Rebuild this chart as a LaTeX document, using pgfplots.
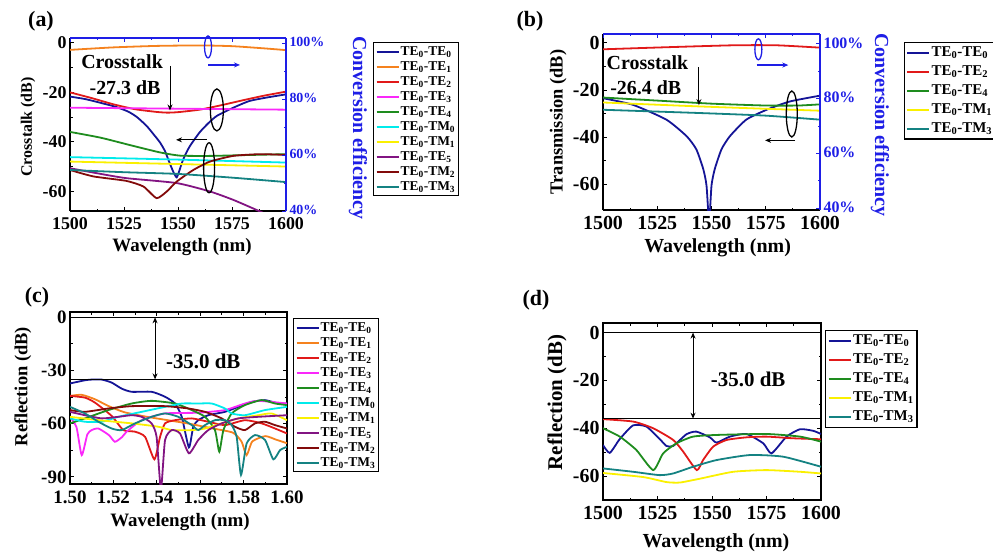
\documentclass[border=0pt]{standalone}
\usepackage{fontspec}
\setmainfont{Liberation Serif}
\usepackage{pgfplots}
\pgfplotsset{compat=1.18}
\usetikzlibrary{arrows.meta}

\definecolor{cTEa}{RGB}{20,20,150}
\definecolor{cTEb}{RGB}{245,130,30}
\definecolor{cTEc}{RGB}{225,25,25}
\definecolor{cTEd}{RGB}{250,40,250}
\definecolor{cTEe}{RGB}{30,140,30}
\definecolor{cTMa}{RGB}{0,235,235}
\definecolor{cTMb}{RGB}{250,240,0}
\definecolor{cTEf}{RGB}{130,20,130}
\definecolor{cTMc}{RGB}{130,10,10}
\definecolor{cTMd}{RGB}{20,130,130}
\definecolor{effblue}{RGB}{30,30,230}

\newcommand{\fs}[1]{\fontsize{#1}{#1}\selectfont\bfseries}
\newcommand{\lab}[4]{TE\textsubscript{#1}-T#2\textsubscript{#3}#4}

\pgfplotsset{
  base/.style={scale only axis, tick align=inside, clip mode=individual,
    /pgf/number format/assume math mode=true,
    /pgf/number format/set thousands separator={},
    axis line style={line width=1.2bp},
    tick style={line width=0.9bp, black},
    major tick length=4bp, minor tick length=2.5bp,
    every axis plot/.append style={line width=1.8bp, smooth, tension=0.35},
    xticklabel style={yshift=-3bp},
    legend cell align=left,
    legend image code/.code={\draw[mark repeat=2, mark phase=2, ##1, line width=2bp] plot coordinates {(0bp,0bp) (11bp,0bp) (22bp,0bp)};},
  },
  legS/.style={legend style={draw=black, line width=1.3bp, fill=white, inner sep=2bp,
      font=\fs{13.5}, nodes={inner sep=1bp, text height=9.5bp, text depth=2.5bp},
      row sep=1bp}},
  legL/.style={legend style={draw=black, line width=1.3bp, fill=white, inner sep=2bp,
      font=\fs{15}, nodes={inner sep=1.5bp, text height=10.5bp, text depth=3bp},
      row sep=2.5bp}},
}

\begin{document}
\begin{tikzpicture}
\path[use as bounding box] (0,0) rectangle (993bp,-554bp);

%================ (a) =================
\begin{axis}[base, legS, at={(70bp,-211bp)}, anchor=south west, width=216bp, height=173bp,
  xmin=1500, xmax=1600, ymin=-68, ymax=2,
  axis x line*=bottom, axis y line*=left,
  xtick={1500,1525,1550,1575,1600}, ytick={-60,-40,-20,0},
  minor x tick num=1, minor y tick num=1,
  ticklabel style={font=\fs{18}},
  xlabel={Wavelength (nm)}, ylabel={Crosstalk (dB)},
  xlabel style={font=\fs{19}, at={(axis description cs:0.519,-0.207)}, anchor=center},
  ylabel style={font=\fs{16}, at={(axis description cs:-0.194,0.486)}, anchor=center},
  legend style={at={(axis description cs:1.403,0.977)}, anchor=north west},
]
\addplot[cTEa] coordinates {(1500,-21.7)(1507,-22.7)(1514,-24.2)(1521,-25.8)(1527,-27.8)(1531,-30)(1535.5,-33.6)(1539,-37.3)(1541.7,-40.3)(1544,-43.8)(1546,-48.3)(1548,-52.5)(1549.4,-54.4)(1550.5,-52)(1551.9,-48.3)(1553.5,-45)(1555.6,-41.6)(1560,-36.2)(1564,-32.5)(1568,-29.5)(1575.6,-26.2)(1583,-23.5)(1591,-22.1)(1600,-20.8)};
\addlegendentry{\lab{0}{E}{0}{}}
\addplot[cTEb] coordinates {(1500,-2.8)(1520,-1.8)(1540,-1.2)(1560,-1.0)(1575,-1.3)(1590,-2.2)(1600,-2.9)};
\addlegendentry{\lab{0}{E}{1}{}}
\addplot[cTEc] coordinates {(1500,-20)(1510,-22.3)(1520,-24.8)(1530,-26.8)(1540,-27.9)(1545,-28.2)(1550,-28.0)(1560,-27.0)(1570,-25.2)(1580,-23.2)(1590,-21.3)(1600,-19.7)};
\addlegendentry{\lab{0}{E}{2}{}}
\addplot[cTEd] coordinates {(1500,-26.2)(1550,-26.6)(1600,-27)};
\addlegendentry{\lab{0}{E}{3}{}}
\addplot[cTEe] coordinates {(1500,-36)(1514,-38.3)(1529,-41.6)(1541.7,-44.3)(1551,-45.6)(1565,-45.7)(1580,-45.4)(1600,-45)};
\addlegendentry{\lab{0}{E}{4}{}}
\addplot[cTMa] coordinates {(1500,-46.2)(1550,-47.2)(1600,-48.4)};
\addlegendentry{\lab{0}{M}{0}{}}
\addplot[cTMb] coordinates {(1500,-48)(1550,-49)(1600,-50)};
\addlegendentry{\lab{0}{M}{1}{}}
\addplot[cTEf] coordinates {(1500,-50.7)(1513,-52.8)(1526,-54.7)(1549.4,-56.7)(1564.8,-60.1)(1575.6,-63.5)(1588,-68.2)(1600,-73)};
\addlegendentry{\lab{0}{E}{5}{}}
\addplot[cTMc] coordinates {(1500,-51.4)(1510.8,-54)(1526,-55.8)(1534,-58.1)(1540.1,-62.8)(1544.8,-60.1)(1549.4,-56.1)(1557.1,-51.4)(1564.8,-48)(1575.6,-45.7)(1588,-45)(1600,-45.3)};
\addlegendentry{\lab{0}{M}{2}{}}
\addplot[cTMd] coordinates {(1500,-51.4)(1525,-52.3)(1550,-53)(1575,-54.5)(1600,-56.3)};
\addlegendentry{\lab{0}{M}{3}{}}
\node[font=\fs{20}] at (axis cs:1524.1,-7.7) {Crosstalk};
\node[font=\fs{20}] at (axis cs:1525.5,-18.2) {-27.3 dB};
\draw[-{Stealth[length=6bp,width=5bp]}, line width=1bp] (axis cs:1546.3,-9.3) -- (axis cs:1546.3,-27.3);
\draw[effblue, line width=1.3bp] (axis cs:1563.9,-1.6) ellipse [x radius=3.5bp, y radius=11bp];
\draw[effblue, line width=1.3bp, -{Stealth[length=6bp,width=5bp]}] (axis cs:1563.9,-8.9) -- (axis cs:1578.7,-8.9);
\draw[line width=1.3bp] (axis cs:1568,-27.1) ellipse [x radius=6.5bp, y radius=21bp];
\draw[line width=1.3bp, -{Stealth[length=6bp,width=5bp]}] (axis cs:1563.4,-39.2) -- (axis cs:1549.1,-39.2);
\draw[line width=1.3bp] (axis cs:1564.4,-50.5) ellipse [x radius=5.5bp, y radius=25bp];
\end{axis}
\begin{axis}[base, at={(70bp,-211bp)}, anchor=south west, width=216bp, height=173bp,
  xmin=1500, xmax=1600, ymin=40, ymax=101.8,
  axis x line*=top, axis y line*=right,
  axis line style={effblue, line width=1.2bp}, tick style={effblue, line width=0.9bp},
  xtick={1500,1525,1550,1575,1600}, xticklabels={,,,,}, minor x tick num=1,
  ytick={40,60,80,100}, yticklabels={40\%,60\%,80\%,100\%}, minor y tick num=1,
  yticklabel style={font=\fs{14}, text=effblue, yshift=1.5bp},
  ylabel={Conversion efficiency},
  every axis y label/.style={at={(axis description cs:1.333,0.48)}, rotate=-90, anchor=center, font=\fs{20}, text=effblue},
]
\end{axis}

%================ (b) =================
\begin{axis}[base, legL, at={(603bp,-210bp)}, anchor=south west, width=217bp, height=176bp,
  xmin=1500, xmax=1600, ymin=-71, ymax=3.8,
  axis x line*=bottom, axis y line*=left,
  xtick={1500,1525,1550,1575,1600}, ytick={-60,-40,-20,0},
  minor x tick num=1, minor y tick num=1,
  ticklabel style={font=\fs{20}},
  xlabel={Wavelength (nm)}, ylabel={Transmission (dB)},
  xlabel style={font=\fs{20}, at={(axis description cs:0.528,-0.216)}, anchor=center},
  ylabel style={font=\fs{18.5}, at={(axis description cs:-0.207,0.5)}, anchor=center},
  legend style={at={(axis description cs:1.385,0.955)}, anchor=north west},
]
\addplot[cTEa] coordinates {(1500,-23.5)(1513.8,-26.3)(1529.2,-32.6)(1538.5,-39.6)(1543,-45.2)(1546.2,-53.6)(1547.7,-60.6)(1548.9,-76)(1550,-60.6)(1551.5,-53.6)(1554.6,-45.2)(1558.5,-39.6)(1566,-32.6)(1575.4,-28.4)(1586,-24.9)(1600,-22.4)};
\addlegendentry{\lab{0}{E}{0}{}}
\addplot[cTEc] coordinates {(1500,-2.7)(1530,-1.8)(1560,-1.0)(1580,-1.0)(1600,-2.0)};
\addlegendentry{\lab{0}{E}{2}{}}
\addplot[cTEe] coordinates {(1500,-23.2)(1525,-24.5)(1550,-25.8)(1575,-26.6)(1590,-26.6)(1600,-26.1)};
\addlegendentry{\lab{0}{E}{4}{}}
\addplot[cTMb] coordinates {(1500,-25.3)(1545,-27)(1600,-28.8)};
\addlegendentry{\lab{0}{M}{1}{}}
\addplot[cTMd] coordinates {(1500,-28.4)(1545,-29.8)(1575,-30.9)(1600,-32.6)};
\addlegendentry{\lab{0}{M}{3}{}}
\node[font=\fs{20}] at (axis cs:1520.5,-8.5) {Crosstalk};
\node[font=\fs{20}] at (axis cs:1519.7,-19.2) {-26.4 dB};
\draw[-{Stealth[length=6bp,width=5bp]}, line width=1bp] (axis cs:1544.2,-10.4) -- (axis cs:1544.2,-26.4);
\draw[effblue, line width=1.3bp] (axis cs:1571.6,-2.7) ellipse [x radius=3.5bp, y radius=10.5bp];
\draw[effblue, line width=1.3bp, -{Stealth[length=6bp,width=5bp]}] (axis cs:1570.8,-9.4) -- (axis cs:1585.4,-9.4);
\draw[line width=1.3bp] (axis cs:1587,-30.2) ellipse [x radius=5.5bp, y radius=23bp];
\draw[line width=1.3bp, -{Stealth[length=6bp,width=5bp]}] (axis cs:1588.5,-41.4) -- (axis cs:1574.7,-41.4);
\end{axis}
\begin{axis}[base, at={(603bp,-210bp)}, anchor=south west, width=217bp, height=176bp,
  xmin=1500, xmax=1600, ymin=39.3, ymax=103.6,
  axis x line*=top, axis y line*=right,
  axis line style={effblue, line width=1.2bp}, tick style={effblue, line width=0.9bp},
  xtick={1500,1525,1550,1575,1600}, xticklabels={,,,,}, minor x tick num=1,
  ytick={40,60,80,100}, yticklabels={40\%,60\%,80\%,100\%}, minor y tick num=1,
  yticklabel style={font=\fs{16}, text=effblue, yshift=1bp},
  ylabel={Conversion efficiency},
  every axis y label/.style={at={(axis description cs:1.276,0.483)}, rotate=-90, anchor=center, font=\fs{20}, text=effblue},
]
\end{axis}

%================ (c) =================
\begin{axis}[base, legS, at={(70bp,-484bp)}, anchor=south west, width=217bp, height=172bp,
  xmin=1.5, xmax=1.6, ymin=-94, ymax=3,
  xtick={1.50,1.52,1.54,1.56,1.58,1.60}, ytick={-90,-60,-30,0},
  minor x tick num=1, minor y tick num=1,
  xticklabel style={/pgf/number format/.cd, fixed, fixed zerofill, precision=2},
  ticklabel style={font=\fs{19}},
  xlabel={Wavelength (nm)}, ylabel={Reflection (dB)},
  xlabel style={font=\fs{19}, at={(axis description cs:0.507,-0.219)}, anchor=center},
  ylabel style={font=\fs{18.5}, at={(axis description cs:-0.217,0.566)}, anchor=center},
  legend style={at={(axis description cs:1.028,0.965)}, anchor=north west},
]
\addplot[cTEa] coordinates {(1.5000,-37.3)(1.5069,-35.5)(1.5100,-35.1)(1.5146,-35.1)(1.5192,-36.8)(1.5238,-40.2)(1.5284,-42.0)(1.5376,-42.0)(1.5438,-44.8)(1.5484,-48.6)(1.5515,-56.1)(1.5548,-73.4)(1.5568,-61.7)(1.5591,-58.0)(1.5637,-55.2)(1.5714,-53.3)(1.5776,-50.5)(1.5837,-47.7)(1.5899,-46.7)(1.5960,-48.6)(1.6000,-48.6)};
\addlegendentry{\lab{0}{E}{0}{}}
\addplot[cTEb] coordinates {(1.5000,-44.3)(1.5054,-43.7)(1.5115,-46.2)(1.5177,-50.0)(1.5250,-53.5)(1.5350,-56.0)(1.5450,-58.0)(1.5550,-60.0)(1.5650,-62.5)(1.5750,-65.0)(1.5790,-70.0)(1.5814,-77.7)(1.5840,-70.0)(1.5900,-67.0)(1.5950,-69.0)(1.6000,-71.0)};
\addlegendentry{\lab{0}{E}{1}{}}
\addplot[cTEc] coordinates {(1.5000,-44.3)(1.5069,-45.3)(1.5115,-48.1)(1.5192,-55.6)(1.5246,-63.6)(1.5300,-64.5)(1.5346,-67.4)(1.5389,-80.1)(1.5415,-67.4)(1.5438,-59.8)(1.5484,-58.0)(1.5561,-57.0)(1.5637,-58.9)(1.5714,-60.8)(1.5806,-58.0)(1.5883,-59.8)(1.5945,-62.7)(1.6000,-65.5)};
\addlegendentry{\lab{0}{E}{2}{}}
\addplot[cTEd] coordinates {(1.5000,-56.1)(1.5030,-62)(1.5054,-77.7)(1.5080,-66)(1.5100,-63.6)(1.5131,-62.7)(1.5180,-66.5)(1.5207,-70.2)(1.5240,-67.5)(1.5261,-64.5)(1.5330,-58.0)(1.5438,-54.2)(1.5591,-53.8)(1.5714,-52.3)(1.5806,-48.6)(1.5868,-47.1)(1.6000,-48.6)};
\addlegendentry{\lab{0}{E}{3}{}}
\addplot[cTEe] coordinates {(1.5000,-59.8)(1.5069,-57.0)(1.5177,-52.3)(1.5284,-48.6)(1.5376,-47.1)(1.5484,-48.6)(1.5561,-52.3)(1.5622,-56.1)(1.5668,-63.6)(1.5688,-75.8)(1.5707,-63.6)(1.5745,-54.2)(1.5806,-49.5)(1.5883,-46.7)(1.5945,-48.6)(1.6000,-49.5)};
\addlegendentry{\lab{0}{E}{4}{}}
\addplot[cTMa] coordinates {(1.5000,-57.0)(1.5069,-58.9)(1.5146,-58.9)(1.5223,-56.1)(1.5330,-53.3)(1.5438,-50.5)(1.5515,-48.6)(1.5591,-48.6)(1.5653,-48.6)(1.5714,-51.4)(1.5745,-54.2)(1.5806,-55.2)(1.5899,-52.3)(1.6000,-50.5)};
\addlegendentry{\lab{0}{M}{0}{}}
\addplot[cTMb] coordinates {(1.5000,-56.1)(1.5131,-58.0)(1.5284,-59.8)(1.5407,-61.7)(1.5469,-63.6)(1.5561,-63.6)(1.5622,-62.7)(1.5699,-59.8)(1.5776,-57.0)(1.5868,-55.2)(1.5929,-54.2)(1.6000,-58.0)};
\addlegendentry{\lab{0}{M}{1}{}}
\addplot[cTEf] coordinates {(1.5000,-53.3)(1.5069,-55.2)(1.5146,-57.0)(1.5223,-56.1)(1.5284,-55.2)(1.5330,-56.1)(1.5376,-59.8)(1.5399,-67.4)(1.5419,-97)(1.5438,-69.2)(1.5469,-63.6)(1.5507,-65.5)(1.5548,-76.7)(1.5591,-69.2)(1.5637,-63.6)(1.5699,-59.8)(1.5776,-57.0)(1.5868,-56.1)(1.6000,-55.2)};
\addlegendentry{\lab{0}{E}{5}{}}
\addplot[cTMc] coordinates {(1.5000,-52.3)(1.5069,-53.3)(1.5177,-51.4)(1.5284,-50.1)(1.5438,-50.1)(1.5545,-51.4)(1.5622,-53.3)(1.5699,-57.0)(1.5760,-61.7)(1.5806,-63.6)(1.5853,-59.8)(1.5899,-58.9)(1.5945,-60.8)(1.6000,-62.7)};
\addlegendentry{\lab{0}{M}{2}{}}
\addplot[cTMd] coordinates {(1.5000,-50.5)(1.5069,-54.2)(1.5131,-58.9)(1.5192,-62.7)(1.5238,-63.6)(1.5300,-59.8)(1.5376,-56.1)(1.5438,-54.2)(1.5499,-56.1)(1.5561,-60.8)(1.5591,-63.6)(1.5622,-60.8)(1.5668,-58.0)(1.5714,-58.0)(1.5745,-60.8)(1.5768,-67.4)(1.5788,-88.9)(1.5814,-71.1)(1.5853,-66.4)(1.5899,-69.2)(1.5937,-80.1)(1.5968,-74.9)(1.6000,-73.0)};
\addlegendentry{\lab{0}{M}{3}{}}
\draw[line width=1.2bp] (axis cs:1.5,0) -- (axis cs:1.6,0);
\draw[line width=1.2bp] (axis cs:1.5,-35) -- (axis cs:1.6,-35);
\draw[{Stealth[length=6bp,width=5bp]}-{Stealth[length=6bp,width=5bp]}, line width=1bp] (axis cs:1.5392,0) -- (axis cs:1.5392,-35);
\node[font=\fs{21}] at (axis cs:1.5614,-24.8) {-35.0 dB};
\end{axis}

%================ (d) =================
\begin{axis}[base, legL, at={(603bp,-500bp)}, anchor=south west, width=218bp, height=177bp,
  xmin=1500, xmax=1600, ymin=-70, ymax=4,
  xtick={1500,1525,1550,1575,1600}, ytick={-60,-40,-20,0},
  minor x tick num=1, minor y tick num=1,
  ticklabel style={font=\fs{20}},
  xlabel={Wavelength (nm)}, ylabel={Reflection (dB)},
  xlabel style={font=\fs{20}, at={(axis description cs:0.518,-0.243)}, anchor=center},
  ylabel style={font=\fs{21}, at={(axis description cs:-0.211,0.551)}, anchor=center},
  legend style={at={(axis description cs:1.018,0.96)}, anchor=north west},
]
\addplot[cTEa] coordinates {(1500,-47.0)(1503.1,-50.3)(1507.7,-44.5)(1513.8,-38.8)(1519.9,-39.3)(1526,-44.5)(1529.1,-47.4)(1532.2,-47.4)(1538.3,-42.5)(1542.8,-41.4)(1549,-43.8)(1552.1,-46.0)(1558.2,-43.5)(1565.8,-42.4)(1573.5,-46.3)(1577.3,-50.5)(1584.2,-43.5)(1590.4,-40.4)(1596.5,-41.1)(1600,-42.4)};
\addlegendentry{\lab{0}{E}{0}{}}
\addplot[cTEc] coordinates {(1500,-36.2)(1513.8,-37.2)(1523,-40)(1532.2,-44.9)(1536.8,-49.8)(1543,-57.5)(1545.9,-53.3)(1550.5,-47.7)(1556.7,-44.9)(1565.8,-43.8)(1575,-43.5)(1587.3,-44.2)(1600,-44.6)};
\addlegendentry{\lab{0}{E}{2}{}}
\addplot[cTEe] coordinates {(1500,-40)(1507.7,-43.5)(1515.3,-49.1)(1523,-57.5)(1527.6,-50.5)(1533.7,-46.3)(1541.3,-43.5)(1552.1,-42.8)(1575,-42.4)(1590.4,-43.5)(1600,-45.6)};
\addlegendentry{\lab{0}{E}{4}{}}
\addplot[cTMb] coordinates {(1500,-58.7)(1518.4,-60.4)(1529.1,-62.5)(1535.2,-62.7)(1544.4,-61.1)(1559.7,-58.2)(1575,-57.5)(1590.4,-58.2)(1600,-58.9)};
\addlegendentry{\lab{0}{M}{1}{}}
\addplot[cTMd] coordinates {(1500,-56.8)(1513.8,-58.2)(1526,-59.6)(1532.2,-58.9)(1541.3,-56.1)(1552.1,-53.3)(1567.4,-51.2)(1582.7,-51.9)(1600,-56.1)};
\addlegendentry{\lab{0}{M}{3}{}}
\draw[line width=1.2bp] (axis cs:1500,0) -- (axis cs:1600,0);
\draw[line width=1.2bp] (axis cs:1500,-36) -- (axis cs:1600,-36);
\draw[{Stealth[length=6bp,width=5bp]}-{Stealth[length=6bp,width=5bp]}, line width=1bp] (axis cs:1541.3,0) -- (axis cs:1541.3,-36);
\node[font=\fs{21}] at (axis cs:1566.6,-19.7) {-35.0 dB};
\end{axis}

\node[font=\fs{22}] at (41bp,-21bp) {(a)};
\node[font=\fs{22}] at (530bp,-21bp) {(b)};
\node[font=\fs{22}] at (37bp,-297bp) {(c)};
\node[font=\fs{22}] at (536bp,-300bp) {(d)};
\end{tikzpicture}
\end{document}
